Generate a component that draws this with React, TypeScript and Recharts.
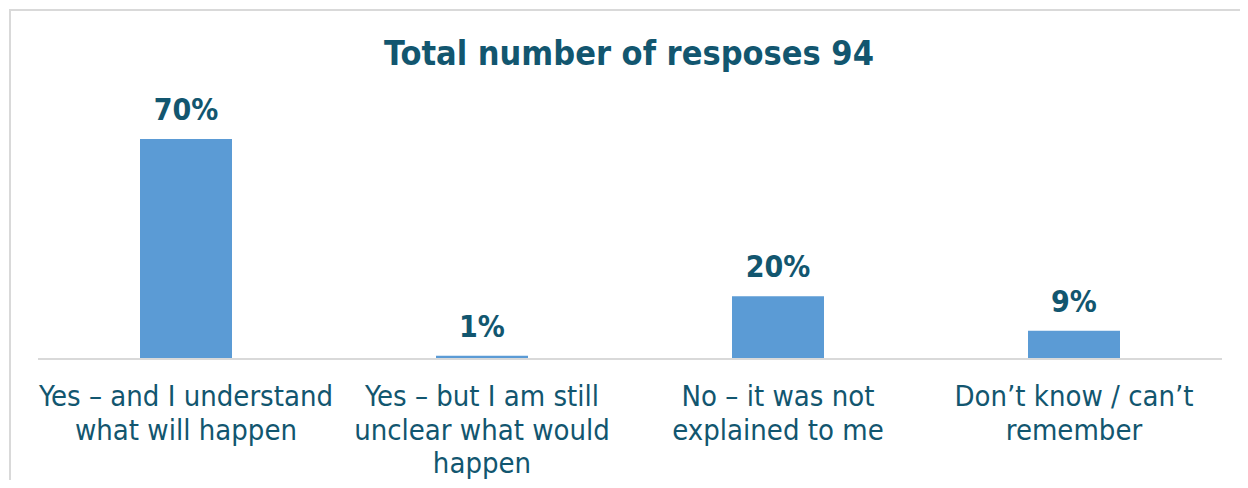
import { BarChart, Bar, XAxis, YAxis, LabelList } from "recharts";

const categories = [
  "Yes – and I understand\nwhat will happen",
  "Yes – but I am still\nunclear what would\nhappen",
  "No – it was not\nexplained to me",
  "Don’t know / can’t\nremember",
];
const shares = [70, 1, 20, 9];

const data = categories.map((name, i) => ({ name, value: shares[i] }));

const TEAL = "#12566f";
const FONT = "'DejaVu Sans Condensed', 'DejaVu Sans', sans-serif";

function CategoryTick(props: any) {
  const { x, y, payload } = props;
  const lines = String(payload.value).split("\n");
  return (
    <text
      x={x}
      y={y + 39}
      textAnchor="middle"
      fill={TEAL}
      fontSize={29}
      fontFamily={FONT}
    >
      {lines.map((ln, i) => (
        <tspan key={i} x={x} dy={i === 0 ? 0 : 33.5}>
          {ln}
        </tspan>
      ))}
    </text>
  );
}

function ValueLabel(props: any) {
  const { x, y, width, value } = props;
  return (
    <text
      x={x + width / 2}
      y={y - 19}
      textAnchor="middle"
      fill={TEAL}
      fontSize={30}
      fontWeight="bold"
      fontFamily={FONT}
    >
      {value}%
    </text>
  );
}

export default function App() {
  return (
    <div
      style={{
        position: "relative",
        margin: -8,
        width: 1248,
        height: 488,
        overflow: "hidden",
        background: "#fff",
      }}
    >
      {/* frame */}
      <div
        style={{
          position: "absolute",
          left: 9,
          top: 9,
          width: 1232,
          height: 520,
          border: "2px solid #d9d9d9",
        }}
      />

      {/* title */}
      <div
        style={{
          position: "absolute",
          left: 0,
          width: 1258,
          top: 31,
          textAlign: "center",
          color: TEAL,
          fontFamily: FONT,
          fontWeight: "bold",
          fontSize: 34,
          lineHeight: "44px",
        }}
      >
        Total number of resposes 94
      </div>

      <div style={{ position: "absolute", left: 0, top: 0 }}>
        <BarChart
          width={1248}
          height={488}
          data={data}
          margin={{ top: 139, right: 26, bottom: 0, left: 38 }}
          barSize={92}
        >
          <XAxis
            dataKey="name"
            height={129}
            interval={0}
            tickLine={false}
            axisLine={{ stroke: "#d9d9d9", strokeWidth: 2 }}
            tick={<CategoryTick />}
          />
          <YAxis hide domain={[0, 70]} />
          <Bar dataKey="value" fill="#5b9bd5" isAnimationActive={false}>
            <LabelList dataKey="value" content={<ValueLabel />} />
          </Bar>
        </BarChart>
      </div>
    </div>
  );
}
